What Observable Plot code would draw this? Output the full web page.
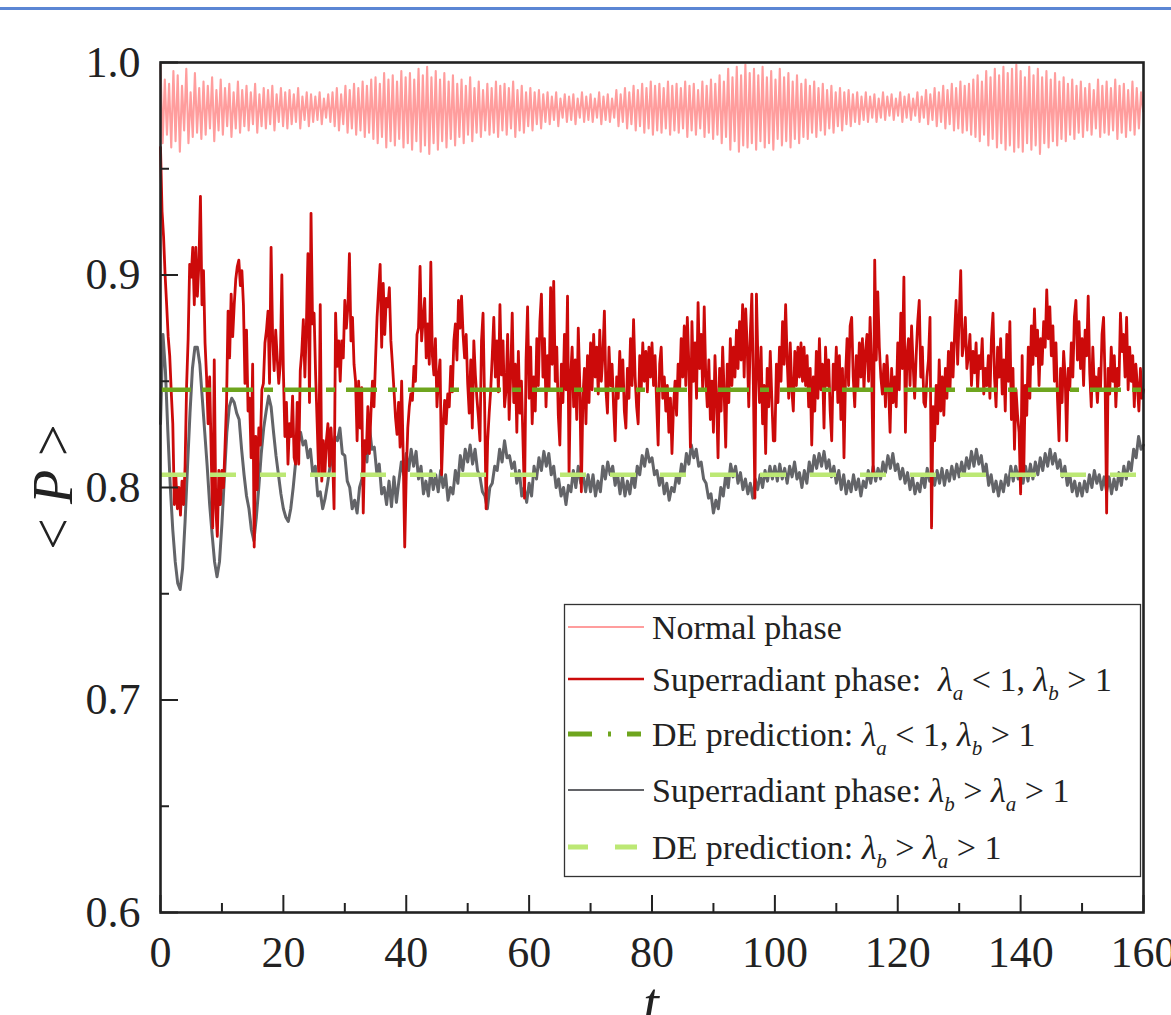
<!DOCTYPE html>
<html>
<head>
<meta charset="utf-8">
<script src="https://cdn.jsdelivr.net/npm/d3@7"></script>
<script src="https://cdn.jsdelivr.net/npm/@observablehq/plot@0.6"></script>
<style>
html, body { margin: 0; padding: 0; background: #fff; }
#wrap { position: relative; width: 1171px; height: 1015px; overflow: hidden; background: #fff; }
#wrap svg { display: block; }
#topline { position: absolute; left: 0; top: 7px; width: 1171px; height: 3px; background: #5b86d4; z-index: 2; }
</style>
</head>
<body>
<div id="wrap"><div id="topline"></div></div>
<script>
// ---------- data ----------
// Normal phase, sampled every pinkStep in t
const pinkStep = 0.35;
const normalPhase = [
.999,.962,.992,.966,.990,.960,.996,.963,.994,.958,.989,.968,.997,.962,.986,.965,.995,.967,.988,.964,
.991,.966,.989,.969,.993,.963,.987,.968,.992,.966,.988,.970,.990,.965,.986,.969,.991,.967,.987,.970,
.989,.968,.986,.971,.990,.967,.985,.970,.988,.969,.987,.971,.989,.968,.985,.972,.988,.970,.986,.969,
.987,.971,.985,.972,.988,.969,.984,.973,.986,.970,.985,.972,.984,.973,.986,.971,.983,.974,.985,.972,
.986,.970,.988,.968,.985,.971,.989,.967,.987,.969,.990,.966,.988,.968,.991,.965,.989,.967,.992,.964,
.993,.962,.990,.965,.995,.960,.992,.963,.994,.961,.991,.964,.996,.960,.993,.962,.995,.959,.992,.963,
.997,.958,.994,.961,.998,.957,.993,.962,.996,.959,.992,.963,.995,.960,.991,.964,.994,.961,.990,.965,
.992,.962,.989,.966,.993,.963,.988,.967,.991,.965,.987,.968,.990,.966,.988,.967,.991,.965,.989,.968,
.990,.966,.988,.969,.991,.965,.987,.968,.989,.967,.986,.970,.988,.968,.986,.971,.987,.969,.985,.972,
.986,.971,.984,.973,.986,.970,.983,.974,.985,.972,.984,.973,.985,.971,.983,.974,.986,.972,.984,.973,
.985,.972,.983,.974,.986,.971,.984,.973,.985,.972,.983,.974,.987,.970,.985,.972,.988,.969,.986,.971,
.989,.968,.987,.970,.990,.967,.988,.969,.991,.966,.989,.968,.990,.967,.988,.969,.991,.966,.989,.968,
.990,.967,.988,.969,.991,.965,.989,.968,.990,.966,.987,.969,.991,.965,.989,.967,.992,.964,.990,.966,
.994,.962,.991,.965,.997,.959,.993,.963,.998,.958,.994,.961,.999,.960,.995,.962,.997,.959,.994,.963,
.998,.960,.993,.962,.996,.959,.992,.964,.997,.961,.993,.963,.995,.960,.991,.964,.994,.962,.990,.965,
.992,.964,.989,.967,.991,.965,.988,.968,.990,.966,.987,.969,.989,.967,.986,.970,.988,.968,.986,.971,
.987,.970,.985,.972,.986,.971,.984,.973,.986,.972,.984,.974,.985,.972,.983,.974,.986,.973,.984,.975,
.985,.973,.983,.975,.986,.972,.984,.974,.985,.973,.983,.975,.986,.972,.984,.974,.987,.971,.985,.973,
.988,.970,.986,.972,.989,.969,.987,.971,.990,.968,.988,.969,.991,.967,.989,.968,.990,.966,.992,.965,
.994,.963,.991,.966,.996,.961,.993,.964,.997,.960,.994,.962,.998,.959,.995,.961,.997,.958,.999,.960,
.996,.958,.993,.962,.998,.959,.994,.961,.997,.957,.993,.962,.996,.960,.992,.963,.995,.961,.991,.964,
.993,.963,.990,.966,.992,.964,.989,.967,.991,.965,.988,.968,.990,.966,.987,.969,.992,.965,.989,.967,
.991,.966,.988,.968,.992,.964,.989,.967,.990,.965,.987,.968,.991,.966,.988,.969,.986,.977
];

// Superradiant phase, lambda_a < 1, lambda_b > 1 (red), sampled every redStep
const redStep = 0.25;
const superradiantA = [
.960,.930,.918,.900,.886,.871,.862,.845,.830,.792,.805,.790,.800,.787,.803,.792,.810,.848,.870,.905,
.899,.913,.886,.913,.890,.905,.937,.886,.902,.868,.852,.830,.852,.816,.781,.860,.790,.777,.808,.792,
.808,.800,.819,.840,.883,.861,.891,.871,.886,.898,.904,.907,.895,.902,.886,.849,.874,.836,.842,.814,
.858,.772,.824,.799,.828,.820,.846,.849,.868,.874,.883,.849,.913,.871,.855,.874,.861,.849,.858,.900,
.855,.824,.840,.811,.830,.824,.843,.814,.811,.840,.811,.855,.864,.879,.852,.877,.910,.840,.929,.877,
.882,.853,.830,.806,.886,.803,.822,.806,.822,.830,.810,.828,.815,.790,.882,.857,.869,.850,.869,.861,
.888,.875,.885,.910,.869,.880,.858,.850,.822,.850,.828,.847,.788,.822,.816,.838,.816,.835,.850,.838,
.860,.880,.893,.905,.866,.896,.872,.889,.885,.894,.869,.858,.846,.833,.825,.840,.819,.850,.816,.772,
.806,.828,.838,.844,.841,.857,.850,.872,.875,.904,.869,.879,.889,.861,.877,.858,.906,.862,.853,.870,
.838,.852,.860,.806,.828,.841,.830,.844,.838,.857,.845,.869,.877,.860,.888,.875,.890,.872,.861,.872,
.849,.835,.860,.828,.869,.853,.842,.833,.822,.869,.882,.840,.790,.822,.835,.846,.862,.880,.852,.869,
.845,.886,.853,.869,.838,.846,.872,.832,.853,.882,.840,.858,.826,.864,.835,.850,.822,.795,.860,.885,
.842,.866,.830,.852,.836,.870,.848,.878,.891,.852,.870,.838,.862,.846,.894,.858,.897,.850,.866,.834,
.820,.858,.840,.872,.846,.890,.806,.852,.866,.838,.860,.832,.875,.848,.798,.842,.856,.830,.862,.840,
.868,.846,.872,.852,.866,.844,.874,.850,.862,.883,.846,.835,.866,.848,.858,.838,.822,.852,.842,.864,
.846,.860,.836,.828,.856,.842,.870,.848,.879,.852,.838,.830,.862,.846,.868,.850,.864,.845,.866,.852,
.868,.848,.862,.840,.820,.858,.866,.842,.852,.836,.848,.826,.842,.816,.838,.850,.834,.858,.846,.870,
.852,.876,.848,.880,.858,.819,.878,.850,.868,.842,.887,.856,.872,.846,.885,.852,.838,.860,.832,.850,
.826,.862,.842,.814,.856,.836,.866,.844,.819,.858,.840,.870,.848,.866,.852,.874,.856,.878,.860,.886,
.852,.884,.866,.838,.872,.891,.848,.795,.891,.858,.840,.866,.830,.848,.816,.856,.838,.864,.842,.822,
.822,.858,.840,.866,.850,.878,.858,.886,.860,.842,.868,.846,.836,.864,.848,.866,.852,.868,.850,.866,
.848,.862,.838,.856,.820,.852,.836,.864,.842,.870,.846,.858,.828,.866,.848,.860,.836,.822,.858,.846,
.866,.840,.862,.832,.856,.814,.852,.870,.848,.876,.880,.852,.838,.862,.846,.868,.852,.870,.846,.864,
.872,.850,.880,.856,.806,.907,.860,.892,.866,.852,.844,.858,.838,.862,.848,.826,.856,.840,.852,.838,
.868,.846,.882,.856,.899,.826,.862,.870,.848,.876,.858,.842,.862,.878,.888,.852,.866,.840,.838,.852,
.860,.880,.781,.838,.822,.848,.830,.860,.836,.852,.834,.856,.842,.864,.846,.868,.852,.872,.888,.858,
.880,.902,.862,.868,.880,.856,.862,.872,.848,.864,.854,.868,.846,.862,.856,.870,.844,.856,.848,.862,
.842,.870,.882,.852,.838,.866,.852,.870,.844,.860,.836,.872,.850,.878,.832,.856,.818,.846,.834,.826,
.797,.862,.806,.848,.834,.866,.842,.876,.858,.884,.862,.874,.848,.870,.858,.878,.866,.893,.870,.885,
.862,.876,.850,.868,.842,.822,.856,.840,.864,.852,.822,.856,.846,.868,.852,.880,.888,.860,.878,.856,
.870,.848,.874,.862,.890,.854,.838,.866,.846,.852,.840,.856,.846,.872,.880,.850,.788,.856,.844,.866,
.850,.862,.838,.856,.848,.882,.864,.872,.852,.880,.846,.866,.850,.862,.838,.858,.848,.836,.856,.842,
.846
];

// Superradiant phase, lambda_b > lambda_a > 1 (gray), sampled every grayStep
const grayStep = 0.4;
const superradiantB = [
.830,.872,.855,.826,.800,.780,.765,.755,.752,.762,.784,.810,.835,.856,.866,.866,.858,.842,.826,.810,.792,.778,.765,.758,.765,
.783,.805,.826,.838,.842,.840,.835,.832,.818,.806,.796,.790,.780,.775,.786,.800,.816,.828,.836,.843,.838,.826,.815,.806,.797,
.790,.786,.784,.790,.800,.812,.820,.826,.820,.822,.814,.818,.806,.810,.796,.798,.790,.795,.802,.810,.814,.824,.822,.828,.816,
.815,.803,.800,.790,.794,.788,.800,.804,.819,.812,.829,.818,.819,.807,.811,.797,.800,.792,.803,.791,.805,.793,.803,.812,.806,
.816,.808,.818,.810,.817,.804,.810,.797,.803,.796,.808,.799,.806,.798,.808,.800,.806,.794,.800,.797,.808,.802,.815,.808,.818,
.812,.820,.811,.818,.808,.805,.798,.796,.790,.800,.802,.810,.808,.818,.812,.822,.814,.815,.809,.812,.802,.808,.796,.800,.793,
.802,.796,.810,.804,.814,.808,.817,.810,.816,.806,.810,.800,.804,.796,.800,.792,.801,.798,.808,.800,.810,.802,.806,.798,.806,
.798,.806,.796,.803,.798,.810,.804,.812,.806,.810,.801,.806,.797,.805,.796,.803,.797,.806,.800,.810,.806,.815,.810,.818,.812,
.814,.806,.808,.801,.806,.797,.802,.794,.800,.798,.806,.802,.811,.806,.816,.811,.820,.814,.818,.810,.812,.804,.802,.795,.797,
.788,.794,.790,.800,.796,.806,.800,.811,.805,.810,.802,.807,.799,.804,.797,.802,.795,.804,.799,.806,.800,.808,.803,.810,.804,
.810,.803,.811,.804,.809,.802,.810,.805,.812,.804,.807,.800,.808,.802,.812,.806,.815,.809,.816,.810,.817,.809,.813,.805,.810,
.802,.808,.799,.806,.797,.803,.798,.806,.799,.804,.796,.803,.800,.808,.802,.810,.803,.809,.804,.812,.807,.815,.809,.816,.808,
.811,.804,.809,.802,.807,.799,.805,.797,.802,.798,.806,.800,.809,.803,.808,.801,.808,.802,.809,.801,.808,.803,.810,.804,.811,
.805,.812,.806,.814,.809,.817,.810,.818,.811,.815,.806,.811,.801,.806,.798,.803,.796,.803,.798,.806,.801,.810,.803,.810,.804,
.809,.802,.810,.803,.811,.804,.812,.806,.814,.808,.816,.810,.818,.811,.816,.809,.813,.805,.810,.801,.806,.798,.803,.796,.802,
.796,.803,.798,.806,.800,.808,.802,.806,.799,.805,.798,.805,.797,.804,.799,.807,.801,.810,.804,.812,.808,.818,.814,.824,.818,
.820
];

// DE predictions
const dePredictionA = 0.846;  // lambda_a < 1, lambda_b > 1
const dePredictionB = 0.806;  // lambda_b > lambda_a > 1

// axes
const xMajorTicks = [0, 20, 40, 60, 80, 100, 120, 140, 160];
const xMinorTicks = [10, 30, 50, 70, 90, 110, 130, 150];
const yMajorTicks = [0.6, 0.7, 0.8, 0.9, 1.0];
const yMinorTicks = [0.65, 0.75, 0.85, 0.95];

// legend texts: [text, kind] kind: "" normal, "i" italic, "s" italic subscript
const legendLabels = [
  [["Normal phase", ""]],
  [["Superradiant phase:  ", ""], ["λ", "i"], ["a", "s"], [" < 1, ", ""], ["λ", "i"], ["b", "s"], [" > 1", ""]],
  [["DE prediction: ", ""], ["λ", "i"], ["a", "s"], [" < 1, ", ""], ["λ", "i"], ["b", "s"], [" > 1", ""]],
  [["Superradiant phase: ", ""], ["λ", "i"], ["b", "s"], [" > ", ""], ["λ", "i"], ["a", "s"], [" > 1", ""]],
  [["DE prediction: ", ""], ["λ", "i"], ["b", "s"], [" > ", ""], ["λ", "i"], ["a", "s"], [" > 1", ""]]
];

// ---------- chart ----------
const W = 1171, H = 1015;
const mL = 160, mR = 28, mT = 62, mB = 103;
const plotW = W - mL - mR, plotH = H - mT - mB;
const FONT = "'Liberation Serif', 'Times New Roman', serif";
const colors = {
  normal: "#ff9d9d", superA: "#cc0a0a", superB: "#636468",
  deA: "#6ea51e", deB: "#bce874", axis: "#222"
};
const dashA = "31,11,9,11";
const dashB = "26,24";

const chart = Plot.plot({
  width: W, height: H,
  marginLeft: mL, marginRight: mR, marginTop: mT, marginBottom: mB,
  style: {fontFamily: FONT, fontSize: "44px", color: colors.axis, background: "#fff"},
  x: {domain: [0, 160], label: null},
  y: {domain: [0.6, 1.0], label: null},
  marks: [
    Plot.line(normalPhase, {x: (d, i) => i * pinkStep, y: d => d, stroke: colors.normal, strokeWidth: 2.1}),
    Plot.line(superradiantB, {x: (d, i) => i * grayStep, y: d => d, stroke: colors.superB, strokeWidth: 3}),
    Plot.line(superradiantA, {x: (d, i) => i * redStep, y: d => d, stroke: colors.superA, strokeWidth: 2.8}),
    Plot.ruleY([dePredictionB], {stroke: colors.deB, strokeWidth: 4.5, strokeDasharray: dashB}),
    Plot.ruleY([dePredictionA], {stroke: colors.deA, strokeWidth: 4.5, strokeDasharray: dashA}),
    Plot.tickX(xMinorTicks, {x: d => d, insetTop: plotH - 9, stroke: colors.axis, strokeWidth: 2}),
    Plot.tickX(xMajorTicks, {x: d => d, insetTop: plotH - 17, stroke: colors.axis, strokeWidth: 2}),
    Plot.tickY(yMinorTicks, {y: d => d, insetRight: plotW - 9, stroke: colors.axis, strokeWidth: 2}),
    Plot.tickY(yMajorTicks, {y: d => d, insetRight: plotW - 18, stroke: colors.axis, strokeWidth: 2}),
    Plot.frame({stroke: colors.axis, strokeWidth: 2.6}),
    Plot.axisX(xMajorTicks, {tickSize: 0, tickPadding: 23, label: null, tickFormat: d => String(d)}),
    Plot.axisY(yMajorTicks, {tickSize: 0, tickPadding: 20, label: null, tickFormat: d3.format(".1f")})
  ]
});

document.getElementById("wrap").appendChild(chart);
const svg = d3.select(chart);

// axis titles
const yTitle = svg.append("text")
  .attr("transform", "translate(72,487) rotate(-90)")
  .attr("text-anchor", "middle")
  .attr("font-family", FONT).attr("font-size", 56).attr("fill", colors.axis)
  .style("white-space", "pre");
yTitle.append("tspan").text("< ");
yTitle.append("tspan").attr("font-style", "italic").text("P");
yTitle.append("tspan").text(" >");

svg.append("text")
  .attr("x", 651).attr("y", 1022)
  .attr("text-anchor", "middle")
  .attr("font-family", FONT).attr("font-size", 56).attr("font-style", "italic").attr("fill", colors.axis)
  .text("t");

// legend
const lg = svg.append("g")
  .attr("font-family", FONT).attr("font-size", 34).attr("fill", colors.axis)
  .attr("text-anchor", "start")
  .style("white-space", "pre");
lg.append("rect")
  .attr("x", 564.5).attr("y", 604.5).attr("width", 576).attr("height", 272)
  .attr("fill", "#fff").attr("stroke", "#333").attr("stroke-width", 1.3);

const legendStyles = [
  {stroke: colors.normal, w: 2, dash: null},
  {stroke: colors.superA, w: 2.4, dash: null},
  {stroke: colors.deA, w: 5, dash: "24,16,3,16,14"},
  {stroke: colors.superB, w: 2.2, dash: null},
  {stroke: colors.deB, w: 5, dash: "20,27,22"}
];
const rowY = [627, 679, 734, 790, 847];
legendLabels.forEach((parts, k) => {
  const st = legendStyles[k];
  const y = rowY[k];
  const ln = lg.append("line")
    .attr("x1", 568).attr("x2", 644).attr("y1", y).attr("y2", y)
    .attr("stroke", st.stroke).attr("stroke-width", st.w);
  if (st.dash) ln.attr("stroke-dasharray", st.dash);
  const tx = lg.append("text").attr("x", 652).attr("y", y + 12).attr("text-anchor", "start");
  let shifted = false;
  parts.forEach(([s, kind]) => {
    const sp = tx.append("tspan").text(s);
    if (kind === "i") sp.attr("font-style", "italic");
    if (kind === "s") {
      sp.attr("font-style", "italic").attr("font-size", 21).attr("dy", 9);
      shifted = true;
    } else if (shifted) {
      sp.attr("dy", -9);
      shifted = false;
    }
  });
});
</script>
</body>
</html>
